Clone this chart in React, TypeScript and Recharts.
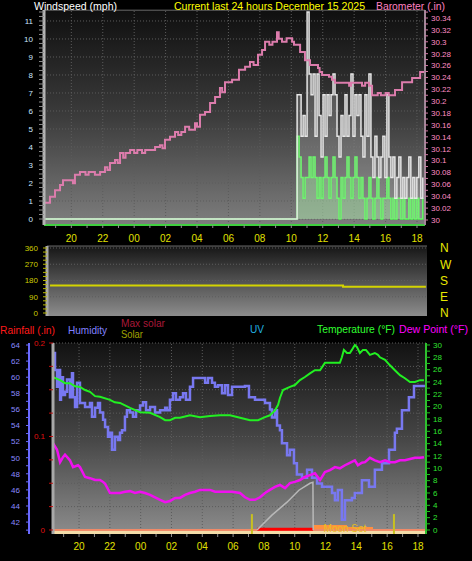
import {
  Area,
  CartesianGrid,
  ComposedChart,
  Line,
  LineChart,
  ReferenceArea,
  ReferenceDot,
  ReferenceLine,
  XAxis,
  YAxis,
} from "recharts";

// time is hours counted from 18:00 the day before (t=2 -> 20:00, t=24 -> 18:00)

const baroReadings: [number, number][] = [
  [0.32, 30.029], [0.64, 30.039], [0.96, 30.05], [1.28, 30.059], [1.47, 30.067], [1.92, 30.067],
  [2.1, 30.062], [2.23, 30.076], [2.55, 30.081], [2.9, 30.076], [3.1, 30.081], [3.5, 30.076],
  [3.83, 30.081], [4.14, 30.089], [4.3, 30.084], [4.46, 30.096], [4.78, 30.101], [4.95, 30.096],
  [5.1, 30.113], [5.3, 30.105], [5.45, 30.113], [5.74, 30.118], [6.0, 30.113], [6.2, 30.118],
  [6.5, 30.113], [6.7, 30.118], [7.33, 30.123], [7.64, 30.126], [7.8, 30.121], [7.96, 30.135],
  [8.28, 30.14], [8.6, 30.148], [8.8, 30.143], [9.0, 30.148], [9.24, 30.157], [9.5, 30.152],
  [9.87, 30.163], [10.0, 30.157], [10.19, 30.177], [10.51, 30.182], [10.83, 30.197], [11.15, 30.207],
  [11.46, 30.222], [11.6, 30.215], [11.78, 30.232], [12.23, 30.236], [12.67, 30.253], [13.06, 30.258],
  [13.37, 30.266], [13.6, 30.261], [13.88, 30.278], [14.14, 30.286], [14.33, 30.3], [14.6, 30.295],
  [14.8, 30.3], [15.09, 30.316], [15.2, 30.305], [15.41, 30.3], [15.7, 30.306], [16.05, 30.3],
  [16.17, 30.295], [16.56, 30.283], [16.87, 30.269], [17.19, 30.261], [17.7, 30.256], [17.8, 30.249],
  [17.96, 30.244], [18.4, 30.241], [18.59, 30.236], [18.78, 30.231], [19.5, 30.231], [19.68, 30.226],
  [19.8, 30.231], [20.5, 30.226], [20.7, 30.231], [20.95, 30.226], [21.14, 30.21], [21.5, 30.214],
  [21.7, 30.21], [22.0, 30.214], [22.2, 30.21], [22.6, 30.219], [23.05, 30.232], [23.69, 30.239],
  [24.2, 30.249], [24.45, 30.249],
];

// wind was calm until late morning, then sampled every few minutes
const windCalmFrom = 0.33;
const windStartHour = 16.37;
const windStepHour = 0.127;
const gustReadings = [
  6.9, 6.9, 4.6, 5.75, 4.6, 11.5, 8.05, 6.9, 8.05, 4.6, 8.05, 5.75, 3.45, 6.9, 4.6, 6.9,
  5.75, 6.9, 8.05, 6.9, 4.6, 3.45, 5.75, 4.6, 6.9, 4.6, 5.75, 8.05, 4.6, 6.9, 5.75, 6.9,
  4.6, 3.45, 6.9, 4.6, 8.05, 3.45, 2.3, 4.6, 3.45, 2.3, 3.45, 4.6, 2.3, 6.9, 3.45, 2.3,
  3.45, 1.15, 2.3, 3.45, 1.15, 2.3, 1.15, 2.3, 3.45, 1.15, 2.3, 1.15, 2.3, 3.45, 1.15, 2.3,
];
const avgReadings = [
  4.6, 3.45, 2.3, 1.15, 2.3, 2.3, 3.45, 2.3, 3.45, 2.3, 1.15, 2.3, 1.15, 2.3, 3.45, 2.3,
  1.15, 2.3, 3.45, 2.3, 1.15, 0, 2.3, 1.15, 2.3, 3.45, 2.3, 1.15, 2.3, 3.45, 2.3, 1.15,
  2.3, 1.15, 0, 1.15, 2.3, 1.15, 0, 1.15, 2.3, 1.15, 0, 1.15, 1.15, 2.3, 1.15, 0,
  1.15, 0, 1.15, 1.15, 0, 1.15, 0, 0, 1.15, 0, 1.15, 0, 1.15, 0, 0, 1.15,
];

const dirReadings: [number, number][] = [[0.33, 152], [19.17, 146], [24.5, 146]];

const humReadings: [number, number][] = [
  [0.31, 63.0], [0.44, 60.9], [0.57, 58.8], [0.64, 60.9], [0.77, 57.2], [0.83, 60.0], [0.96, 57.8],
  [1.09, 58.2], [1.22, 59.7], [1.41, 57.5], [1.54, 60.5], [1.61, 57.5], [1.74, 56.3], [1.87, 59.3],
  [2.06, 56.8], [2.39, 56.3], [2.71, 56.8], [2.84, 55.1], [3.04, 56.2], [3.23, 56.8], [3.36, 55.6],
  [3.56, 54.7], [3.69, 53.8], [3.88, 52.6], [4.01, 53.1], [4.14, 51.0], [4.33, 52.6], [4.53, 52.2],
  [4.66, 53.1], [4.79, 53.4], [4.98, 55.1], [5.11, 55.9], [5.31, 55.6], [5.5, 55.1], [5.7, 55.9],
  [5.96, 56.5], [6.15, 56.9], [6.35, 55.9], [6.61, 56.3], [6.93, 55.6], [7.26, 55.9], [7.59, 56.2],
  [7.71, 55.9], [7.9, 57.2], [8.1, 58.0], [8.29, 57.2], [8.55, 57.5], [8.75, 58.0], [8.94, 57.2],
  [9.2, 58.8], [9.4, 59.9], [10.18, 59.3], [10.37, 59.9], [10.63, 59.3], [10.82, 58.8], [11.02, 59.0],
  [11.28, 58.0], [11.48, 59.0], [11.67, 57.8], [11.93, 58.8], [12.77, 58.9], [13.03, 57.5], [13.42, 57.2],
  [14.07, 56.8], [14.39, 56.0], [14.52, 55.0], [14.72, 55.9], [14.85, 54.0], [15.04, 53.4], [15.17, 51.8],
  [15.5, 50.3], [15.69, 51.0], [15.95, 49.3], [16.14, 47.9], [16.47, 47.5], [16.8, 48.5], [17.12, 47.5],
  [17.45, 46.8], [17.77, 46.4], [18.1, 46.4], [18.42, 45.6], [18.61, 44.7], [18.8, 46.0], [19.06, 42.3],
  [19.26, 44.7], [19.71, 45.0], [19.9, 45.6], [20.36, 47.2], [20.82, 46.4], [21.2, 48.5], [21.66, 49.3],
  [22.12, 51.0], [22.5, 53.1], [22.63, 53.6], [22.96, 55.9], [23.41, 57.5], [23.74, 58.9], [24.45, 58.9],
];

const tempReadings: [number, number][] = [
  [0.31, 24.8], [0.77, 24.3], [1.09, 23.8], [1.41, 23.8], [1.74, 23.3], [2.06, 23.2], [2.39, 22.7],
  [2.71, 22.4], [3.04, 21.7], [3.36, 21.6], [4.01, 21.1], [4.32, 20.7], [4.66, 20.6], [5.31, 19.8],
  [5.96, 19.1], [6.61, 19.0], [7.26, 18.3], [7.59, 17.8], [7.9, 17.8], [8.24, 18.2], [8.55, 18.2],
  [9.2, 18.6], [9.85, 18.3], [10.5, 18.5], [11.15, 18.6], [11.8, 18.6], [12.45, 18.2], [13.1, 17.8],
  [13.62, 17.8], [14.07, 18.3], [14.39, 18.6], [14.72, 19.4], [14.92, 20.3], [15.04, 21.4], [15.24, 22.7],
  [15.69, 23.2], [16.01, 23.5], [16.34, 24.3], [16.66, 24.8], [16.99, 25.4], [17.31, 25.9], [17.64, 25.9],
  [17.96, 27.1], [18.29, 27.1], [18.93, 27.1], [19.06, 28.0], [19.19, 29.2], [19.39, 28.7], [19.58, 28.7],
  [19.71, 29.2], [19.9, 30.0], [20.03, 29.7], [20.23, 28.7], [20.43, 29.2], [20.62, 29.2], [20.75, 28.8],
  [20.88, 28.4], [21.2, 28.7], [21.4, 28.4], [21.53, 28.0], [21.86, 27.6], [22.18, 26.7], [22.5, 25.9],
  [22.83, 25.1], [23.15, 24.6], [23.48, 24.0], [23.8, 24.0], [24.13, 24.3], [24.39, 24.3],
];

const dewReadings: [number, number][] = [
  [0.31, 14.1], [0.57, 13.0], [0.77, 11.0], [0.96, 11.8], [1.09, 12.2], [1.41, 11.3], [1.61, 10.2],
  [1.93, 10.5], [2.06, 10.2], [2.39, 8.6], [2.71, 8.4], [3.04, 8.1], [3.36, 8.1], [3.56, 7.8],
  [3.69, 7.5], [4.01, 6.0], [4.66, 6.0], [4.99, 6.2], [5.31, 6.3], [5.63, 6.0], [5.96, 6.2],
  [6.28, 6.0], [6.61, 5.7], [6.93, 5.3], [7.26, 4.9], [7.59, 4.5], [7.9, 4.7], [8.24, 5.2],
  [8.55, 5.2], [8.88, 5.7], [9.2, 6.0], [9.53, 6.2], [9.85, 6.5], [10.5, 6.5], [10.83, 6.2],
  [11.93, 6.2], [12.45, 6.0], [12.77, 5.3], [13.1, 4.9], [13.42, 4.9], [13.75, 5.3], [14.07, 6.0],
  [14.39, 6.5], [14.72, 7.0], [15.04, 7.3], [15.37, 6.8], [15.69, 7.6], [16.01, 7.8], [16.34, 8.1],
  [16.66, 8.6], [16.99, 8.9], [17.31, 9.2], [17.64, 8.1], [17.77, 8.6], [17.96, 9.4], [18.29, 9.7],
  [18.61, 10.2], [18.93, 10.0], [19.26, 10.5], [19.58, 10.9], [19.9, 11.3], [20.1, 10.5], [20.36, 10.9],
  [20.56, 11.0], [20.88, 11.7], [21.2, 11.3], [21.53, 11.0], [21.86, 11.3], [22.18, 11.0], [22.5, 11.0],
  [22.83, 11.3], [23.15, 11.3], [23.48, 11.5], [23.8, 11.7], [24.13, 11.7], [24.39, 11.8],
];

const rainReadings: [number, number][] = [[0.31, 0], [24.52, 0]];
const maxSolarReadings: [number, number][] = [
  [13.55, 0], [14.52, 7.5], [15.5, 14], [16.27, 20], [16.99, 23.5], [17.18, 24], [17.2, 0],
];
const solarReadings: [number, number][] = [
  [14.59, 1], [17.18, 2.5], [19.39, 1.5], [21.08, 0.5], [21.99, 0],
];
const solarLowReadings: [number, number][] = [[13.55, 0.4], [17.18, 0.4]];
const sunrise = 13.22;
const sunset = 22.44;
const moonSet = 19.26;

const hourTicks = Array.from({ length: 24 }, (_, i) => i + 1);
const evenHours = hourTicks.filter((h) => h % 2 === 0);
const hourLabel = (t: number) => (t % 2 === 0 ? String((18 + t) % 24).padStart(2, "0") : "");

const windTicks = Array.from({ length: 47 }, (_, i) => i * 0.25);
const windGrid = Array.from({ length: 12 }, (_, i) => i);
const baroTicks = Array.from({ length: 36 }, (_, i) => +(30 + i * 0.01).toFixed(2));
const dirTicks = Array.from({ length: 17 }, (_, i) => i * 22.5);
const compass = ["N", "E", "S", "W", "N"];
const rainTicks = Array.from({ length: 9 }, (_, i) => +(i * 0.025).toFixed(3));
const humTicks = Array.from({ length: 24 }, (_, i) => 41 + i);
const tempTicks = Array.from({ length: 31 }, (_, i) => i);

const pairs = (list: [number, number][]) => list.map(([t, v]) => ({ t, v }));
const windRows = (list: number[]) => [
  { t: windCalmFrom, v: 0 },
  ...list.map((v, i) => ({ t: windStartHour + i * windStepHour, v })),
];

const dots = { stroke: "#5c5c5c", strokeDasharray: "1 2" };

// left axes are stacked by id: "a-rain" sits next to the plot, "b-hum" outside it
const RAIN = "a-rain";
const HUM = "b-hum";

function Caption({ x, y, w, color, children }: { x: number; y: number; w: number; color: string; children: string }) {
  return (
    <text x={x} y={y} fill={color} fontSize={11} textLength={w} lengthAdjust="spacingAndGlyphs">
      {children}
    </text>
  );
}

export default function App() {
  return (
    <div
      style={{
        position: "absolute",
        left: 0,
        top: 0,
        width: 472,
        height: 561,
        background: "#000",
        overflow: "hidden",
        fontFamily: "'Liberation Sans', Arial, sans-serif",
      }}
    >
      {/* wind + barometer */}
      <div style={{ position: "absolute", left: 0, top: 0 }}>
        <ComposedChart width={472} height={250} margin={{ top: 10, right: 0, bottom: 0, left: 0 }}>
          <defs>
            <linearGradient id="bgWind" x1="0" y1="0" x2="0" y2="1">
              <stop offset="0" stopColor="#0f0f0f" />
              <stop offset="0.5" stopColor="#3c3c3c" />
              <stop offset="1" stopColor="#7e7e7e" />
            </linearGradient>
          </defs>
          <CartesianGrid yAxisId="wind" horizontal={false} vertical={false} fill="url(#bgWind)" />
          <XAxis
            dataKey="t"
            type="number"
            domain={[0.26, 24.51]}
            allowDataOverflow
            ticks={hourTicks}
            interval={0}
            tickFormatter={hourLabel}
            height={25}
            tickSize={3}
            tickMargin={7}
            tick={{ fill: "#e0e000", fontSize: 10 }}
            tickLine={{ stroke: "#909090" }}
            axisLine={{ stroke: "#40d040", strokeWidth: 2 }}
          />
          <YAxis
            yAxisId="wind"
            width={44}
            domain={[-0.333, 11.61]}
            allowDataOverflow
            ticks={windTicks}
            interval={0}
            tickFormatter={(v: number) => (Number.isInteger(v) ? String(v) : "")}
            tickSize={5}
            tickMargin={6}
            tick={{ fill: "#cce6ff", fontSize: 8 }}
            tickLine={{ stroke: "#8a8a8a" }}
            axisLine={{ stroke: "#b4b4b4", strokeWidth: 3 }}
          />
          <YAxis
            yAxisId="baro"
            orientation="right"
            width={47}
            domain={[29.9916, 30.3535]}
            allowDataOverflow
            ticks={baroTicks}
            interval={0}
            tickFormatter={(v: number) => (Math.round(v * 100) % 2 === 0 ? String(v) : "")}
            tickSize={3}
            tickMargin={3}
            tick={{ fill: "#ff8cc4", fontSize: 8 }}
            tickLine={{ stroke: "#d07aa4" }}
            axisLine={{ stroke: "#a08898", strokeWidth: 2 }}
          />
          {windGrid.map((v) => (
            <ReferenceLine key={`wg${v}`} yAxisId="wind" y={v} {...dots} zIndex={-50} />
          ))}
          {evenHours.map((h) => (
            <ReferenceLine key={`wh${h}`} yAxisId="wind" x={h} {...dots} zIndex={-50} />
          ))}
          <ReferenceLine yAxisId="wind" y={11.6} stroke="#6a6a6a" />
          <Area
            yAxisId="wind"
            data={windRows(avgReadings)}
            dataKey="v"
            type="stepAfter"
            stroke="#50ff50"
            strokeWidth={1.5}
            fill="#90ff90"
            fillOpacity={0.35}
            baseValue={0}
            isAnimationActive={false}
          />
          <Area
            yAxisId="wind"
            data={windRows(gustReadings)}
            dataKey="v"
            type="stepAfter"
            stroke="#e6e6e6"
            strokeWidth={1.5}
            fill="#d8d8d8"
            fillOpacity={0.22}
            baseValue={0}
            isAnimationActive={false}
          />
          <Line
            yAxisId="baro"
            data={pairs(baroReadings)}
            dataKey="v"
            type="stepAfter"
            stroke="#dc7cac"
            strokeWidth={2}
            dot={false}
            isAnimationActive={false}
          />
        </ComposedChart>
      </div>

      {/* wind direction */}
      <div style={{ position: "absolute", left: 0, top: 236 }}>
        <LineChart width={472} height={90} margin={{ top: 10, right: 0, bottom: 10, left: 0 }}>
          <defs>
            <linearGradient id="bgDir" x1="0" y1="0" x2="0" y2="1">
              <stop offset="0" stopColor="#161616" />
              <stop offset="1" stopColor="#8c8c8c" />
            </linearGradient>
          </defs>
          <CartesianGrid yAxisId="dir" horizontal={false} vertical={false} fill="url(#bgDir)" />
          <XAxis dataKey="t" type="number" domain={[0.135, 24.57]} allowDataOverflow hide />
          <YAxis
            yAxisId="dir"
            width={47}
            domain={[-16.6, 371.1]}
            allowDataOverflow
            ticks={dirTicks}
            interval={0}
            tickFormatter={(v: number) => (v % 90 === 0 ? String(v) : "")}
            tickSize={4}
            tickMargin={5}
            tick={{ fill: "#cccc00", fontSize: 8 }}
            tickLine={{ stroke: "#b8b800" }}
            axisLine={{ stroke: "#a8a8a8", strokeWidth: 3 }}
          />
          <YAxis
            yAxisId="compass"
            orientation="right"
            width={45}
            domain={[-16.6, 371.1]}
            allowDataOverflow
            ticks={[0, 90, 180, 270, 360]}
            interval={0}
            tickFormatter={(v: number) => compass[Math.round(v / 90)]}
            tickSize={0}
            tickMargin={13}
            tick={{ fill: "#e8e800", fontSize: 12 }}
            axisLine={false}
          />
          {[90, 180, 270, 360].map((v) => (
            <ReferenceLine key={`dg${v}`} yAxisId="dir" y={v} {...dots} zIndex={-50} />
          ))}
          <ReferenceLine yAxisId="dir" y={371} stroke="#6a6a6a" />
          <Line
            yAxisId="dir"
            data={pairs(dirReadings)}
            dataKey="v"
            type="stepAfter"
            stroke="#d4d400"
            strokeWidth={2}
            dot={false}
            isAnimationActive={false}
          />
        </LineChart>
      </div>

      {/* rain / humidity / solar / temperature */}
      <div style={{ position: "absolute", left: 0, top: 333 }}>
        <ComposedChart width={472} height={221} margin={{ top: 10, right: 0, bottom: 0, left: 0 }}>
          <defs>
            <linearGradient id="bgTemp" x1="0" y1="0" x2="0" y2="1">
              <stop offset="0" stopColor="#121212" />
              <stop offset="0.5" stopColor="#464646" />
              <stop offset="1" stopColor="#8c8c8c" />
            </linearGradient>
          </defs>
          <CartesianGrid yAxisId={RAIN} horizontal={false} vertical={false} fill="url(#bgTemp)" />
          <XAxis
            dataKey="t"
            type="number"
            domain={[0.31, 24.52]}
            allowDataOverflow
            ticks={hourTicks}
            interval={0}
            tickFormatter={hourLabel}
            height={20}
            tickSize={3}
            tickMargin={6}
            tick={{ fill: "#e0e000", fontSize: 10 }}
            tickLine={{ stroke: "#909090" }}
            axisLine={false}
          />
          <YAxis
            yAxisId={RAIN}
            width={24}
            domain={[-0.0043, 0.2]}
            allowDataOverflow
            ticks={rainTicks}
            interval={0}
            tickFormatter={(v: number) => (Math.round(v * 40) % 4 === 0 ? String(v) : "")}
            tickSize={4}
            tickMargin={4}
            tick={{ fill: "#e01010", fontSize: 8 }}
            tickLine={{ stroke: "#c01010" }}
            axisLine={{ stroke: "#a8a8a8", strokeWidth: 3 }}
          />
          <YAxis
            yAxisId={HUM}
            width={29}
            domain={[40.52, 64.25]}
            allowDataOverflow
            ticks={humTicks}
            interval={0}
            tickFormatter={(v: number) => (v % 2 === 0 ? String(v) : "")}
            tickSize={3}
            tickMargin={6}
            tick={{ fill: "#8a8aff", fontSize: 8 }}
            tickLine={{ stroke: "#6a6aff" }}
            axisLine={{ stroke: "#6a6aff", strokeWidth: 2 }}
          />
          <YAxis
            yAxisId="temp"
            orientation="right"
            width={46}
            domain={[-0.65, 30.32]}
            allowDataOverflow
            ticks={tempTicks}
            interval={0}
            tickFormatter={(v: number) => (v % 2 === 0 ? String(v) : "")}
            tickSize={4}
            tickMargin={3}
            tick={{ fill: "#30e030", fontSize: 8 }}
            tickLine={{ stroke: "#20c020" }}
            axisLine={{ stroke: "#30c030", strokeWidth: 2 }}
          />
          <YAxis yAxisId="solar" domain={[-2, 94]} allowDataOverflow hide />
          {rainTicks.slice(1).map((v) => (
            <ReferenceLine key={`rg${v}`} yAxisId={RAIN} y={v} {...dots} zIndex={-50} />
          ))}
          {evenHours.map((h) => (
            <ReferenceLine key={`th${h}`} yAxisId={RAIN} x={h} {...dots} zIndex={-50} />
          ))}
          <ReferenceArea yAxisId={RAIN} y1={-0.0043} y2={0} fill="#f2dca8" fillOpacity={1} />
          <Area
            yAxisId="solar"
            data={pairs(solarReadings)}
            dataKey="v"
            type="stepAfter"
            stroke="none"
            fill="#ff9040"
            fillOpacity={1}
            baseValue={0}
            isAnimationActive={false}
          />
          <Line
            yAxisId={RAIN}
            data={pairs(rainReadings)}
            dataKey="v"
            stroke="#f08a68"
            strokeWidth={2}
            dot={false}
            isAnimationActive={false}
          />
          <Line
            yAxisId="solar"
            data={pairs(solarLowReadings)}
            dataKey="v"
            stroke="#ff0000"
            strokeWidth={3}
            dot={false}
            isAnimationActive={false}
          />
          <Line
            yAxisId="solar"
            data={pairs(maxSolarReadings)}
            dataKey="v"
            stroke="#b8b8b8"
            strokeWidth={1.5}
            dot={false}
            isAnimationActive={false}
          />
          <ReferenceLine
            yAxisId="solar"
            segment={[{ x: sunrise, y: -2 }, { x: sunrise, y: 8 }]}
            stroke="#c8c020"
            strokeWidth={2}
          />
          <ReferenceLine
            yAxisId="solar"
            segment={[{ x: sunset, y: -2 }, { x: sunset, y: 8 }]}
            stroke="#c8c020"
            strokeWidth={2}
          />
          <ReferenceDot
            yAxisId="solar"
            x={moonSet}
            y={1}
            r={1}
            fill="none"
            stroke="none"
            label={{ value: "Moon Set", fill: "#e8c020", fontSize: 10, position: "center" }}
          />
          <Line
            yAxisId={HUM}
            data={pairs(humReadings)}
            dataKey="v"
            type="stepAfter"
            stroke="#7878f0"
            strokeWidth={2.5}
            dot={false}
            isAnimationActive={false}
          />
          <Line
            yAxisId="temp"
            data={pairs(tempReadings)}
            dataKey="v"
            stroke="#22f022"
            strokeWidth={2}
            dot={false}
            isAnimationActive={false}
          />
          <Line
            yAxisId="temp"
            data={pairs(dewReadings)}
            dataKey="v"
            stroke="#f010f0"
            strokeWidth={2.5}
            dot={false}
            isAnimationActive={false}
          />
        </ComposedChart>
      </div>

      <svg
        width={472}
        height={561}
        style={{ position: "absolute", left: 0, top: 0, pointerEvents: "none" }}
      >
        <Caption x={34} y={10} w={83} color="#ffffff">Windspeed (mph)</Caption>
        <Caption x={174} y={10} w={191} color="#ffff00">Current last 24 hours December 15 2025</Caption>
        <Caption x={376} y={10} w={69} color="#ff80c0">Barometer (.in)</Caption>
        <Caption x={0} y={334} w={55} color="#ff1a1a">Rainfall (.in)</Caption>
        <Caption x={68} y={334} w={39} color="#8080ff">Humidity</Caption>
        <Caption x={121} y={327} w={44} color="#a81838">Max solar</Caption>
        <Caption x={121} y={338} w={22} color="#a0a000">Solar</Caption>
        <Caption x={250} y={333} w={14} color="#20b0e0">UV</Caption>
        <Caption x={317} y={333} w={78} color="#30ff30">Temperature (°F)</Caption>
        <Caption x={399} y={333} w={69} color="#ff00ff">Dew Point (°F)</Caption>
      </svg>
    </div>
  );
}
